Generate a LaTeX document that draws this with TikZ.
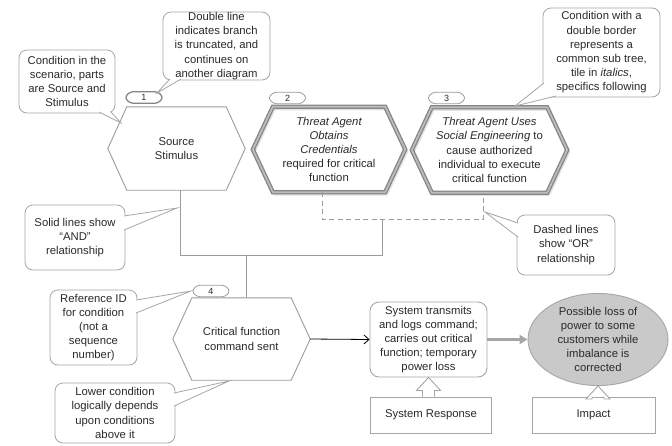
\documentclass[tikz,border=0pt]{standalone}
\usepackage{fontspec}
\setmainfont{Liberation Sans}
\usetikzlibrary{calc,arrows.meta,shapes.geometric}

\definecolor{ink}{HTML}{2A2A2A}
\definecolor{edge}{HTML}{A6A6A6}
\definecolor{hexedge}{HTML}{9C9C9C}
\definecolor{dbl}{HTML}{858585}
\definecolor{dblcore}{HTML}{BDBDBD}
\definecolor{impactfill}{HTML}{C9C9C9}

% hexagon outline around a rectangular node: #2 node name, #3 indent of the points
\newcommand\hexoutline[3][]{%
  \draw[#1] ([xshift=#3]#2.north west) -- ([xshift=-#3]#2.north east) -- (#2.east)
    -- ([xshift=-#3]#2.south east) -- ([xshift=#3]#2.south west) -- (#2.west) -- cycle;}
% soft shadow of a hexagon, offset down and right
\newcommand\hexshade[2]{%
  \draw[gray!22, line width=3pt, line join=round]
    ([xshift=#2+1.5pt,yshift=-2pt]#1.north west) -- ([xshift=-#2+1.5pt,yshift=-2pt]#1.north east)
    -- ([xshift=1.5pt,yshift=-2pt]#1.east) -- ([xshift=-#2+1.5pt,yshift=-2pt]#1.south east)
    -- ([xshift=#2+1.5pt,yshift=-2pt]#1.south west) -- ([xshift=1.5pt,yshift=-2pt]#1.west) -- cycle;}
% speech-bubble pointer: #1 and #2 base points (just inside the box), #3 tip
\newcommand\pointer[3]{%
  \fill[white] #1 -- #3 -- #2 -- cycle;
  \draw[calloutline] #1 -- #3 -- #2;}
% outlined upward block arrow from the top of #1 to the bottom of #2
\newcommand\blockup[2]{%
  \draw[blockline] ($(#2.south |- #1.north)+(-6,0)$) -- ($(#2.south)+(-6,13)$)
    -- ($(#2.south)+(-12,13)$) -- (#2.south) -- ($(#2.south)+(12,13)$)
    -- ($(#2.south)+(6,13)$) -- ($(#2.south |- #1.north)+(6,0)$);}

\begin{document}
\begin{tikzpicture}[x=1pt,y=-1pt,
  font=\fontsize{11.3}{14.2}\selectfont, text=ink,
  hexnode/.style={inner sep=0pt, align=center},
  plainhex/.style={draw=hexedge, line width=0.9pt, line join=miter},
  dblhex/.style={draw=dbl, line width=1.3pt, double=dblcore, double distance=1.7pt, line join=miter},
  tagnode/.style={inner sep=0pt, minimum width=38pt, minimum height=11pt, font=\fontsize{9}{10}\selectfont},
  tagline/.style={draw=hexedge, line width=0.8pt, rounded corners=3pt, fill=white},
  callout/.style={draw=edge, line width=0.8pt, fill=white, rounded corners=8pt, inner sep=0pt, align=center},
  calloutline/.style={draw=edge, line width=0.8pt, line join=miter},
  andline/.style={draw=hexedge, line width=0.9pt},
  orline/.style={draw=hexedge, line width=0.9pt, dash pattern=on 5pt off 3.5pt},
  plainbox/.style={draw=edge, line width=0.9pt, fill=white, inner sep=0pt, align=center},
  blockline/.style={draw=edge, line width=0.9pt, fill=white, line join=miter}]

\useasboundingbox[fill=white] (0,0) rectangle (672,445);

% ---- conditions ----
\node[hexnode, minimum width=137pt, minimum height=83pt] (h1) at (176.5,148.5) {Source\\Stimulus};
\node[hexnode, minimum width=152pt, minimum height=85pt] (h2) at (329,149.5)
  {\itshape Threat Agent\\\itshape Obtains\\\itshape Credentials\\required for critical\\function};
\node[hexnode, minimum width=155pt, minimum height=85pt] (h3) at (489.5,150)
  {\itshape Threat Agent Uses\\\itshape Social Engineering\upshape\ to\\cause authorized\\individual to execute\\critical function};
\node[hexnode, minimum width=137pt, minimum height=82pt] (h4) at (241.5,339) {Critical function\\command sent};

\hexoutline[plainhex]{h1}{19pt}
\hexshade{h2}{20pt}
\hexshade{h3}{20pt}
\hexoutline[dblhex]{h2}{20pt}
\hexoutline[dblhex]{h3}{20pt}
\hexoutline[plainhex]{h4}{19pt}

% ---- reference tags ----
\node[tagnode] (t1) at (144,97.5) {};
\node[tagnode] (t2) at (287.5,98) {};
\node[tagnode] (t3) at (446.5,98) {};
\node[tagnode] (t4) at (211,291) {};
\hexoutline[tagline, draw=dbl, line width=1.3pt]{t1}{5pt}
\hexoutline[tagline]{t2}{5pt}
\hexoutline[tagline]{t3}{5pt}
\hexoutline[tagline]{t4}{5pt}
\node[tagnode] at (t1) {1};
\node[tagnode] at (t2) {2};
\node[tagnode] at (t3) {3};
\node[tagnode] at (t4) {4};

% ---- AND / OR connectors ----
\coordinate (andL) at (180,255);
\coordinate (andR) at (382,255);
\coordinate (andM) at (246,255);
\coordinate (orL)  at (322,219);
\coordinate (orR)  at (483,219);
\coordinate (orM)  at (382,219);
\draw[andline] (h1.south -| andL) -- (andL) -- (andR) -- (orM);
\draw[andline] (andM) -- (h4.north -| andM);
\draw[orline] (h2.south -| orL) -- (orL) -- (orR) -- (h3.south -| orR);

% ---- response and impact ----
\node[plainbox, rounded corners=9pt, minimum width=117pt, minimum height=75pt] (resp) at (428.5,339.5)
  {System transmits\\and logs command;\\carries out critical\\function; temporary\\power loss};
\node[ellipse, draw=edge, line width=0.9pt, fill=impactfill, inner sep=0pt,
  minimum width=140pt, minimum height=76pt, align=center] (imp) at (598,339.5)
  {Possible loss of\\power to some\\customers while\\imbalance is\\corrected};
\node[plainbox, minimum width=121pt, minimum height=36pt] (resplbl) at (431,415) {System Response};
\node[plainbox, minimum width=123pt, minimum height=36pt] (implbl) at (593.5,415) {Impact};

\draw[black, line width=0.8pt, -{Straight Barb[length=5pt,width=9pt]}] (h4.east) -- (resp.west);
\draw[gray!70, line width=3pt, -{Triangle[length=8pt,width=9pt]}] (resp.east) -- (imp.west);
\blockup{resplbl}{resp}
\blockup{implbl}{imp}

% ---- explanatory callouts ----
\node[callout, minimum width=96pt, minimum height=63pt] (c1) at (67,81.5)
  {Condition in the\\scenario, parts\\are Source and\\Stimulus};
\pointer{(99,112)}{(111,112)}{(121,123)}

\node[callout, minimum width=107pt, minimum height=68pt] (c2) at (216.5,46)
  {Double line\\indicates branch\\is truncated, and\\continues on\\another diagram};
\pointer{(170,79)}{(181,79)}{(157,93)}

\node[callout, minimum width=117pt, minimum height=89pt] (c3) at (601.5,52.5)
  {Condition with a\\double border\\represents a\\common sub tree,\\tile in \textit{italics},\\specifics following};
\pointer{(544,83)}{(556,96)}{(515,106)}

\node[callout, minimum width=100pt, minimum height=65pt] (c4) at (75,237.5)
  {Solid lines show\\“AND”\\relationship};
\pointer{(124,216)}{(124,230)}{(177,208)}

\node[callout, minimum width=87pt, minimum height=75pt] (c5) at (93.5,327.5)
  {Reference ID\\for condition\\(not a\\sequence\\number)};
\pointer{(136,300)}{(136,313)}{(191,291)}

\node[callout, minimum width=120pt, minimum height=60pt] (c6) at (115,413)
  {Lower condition\\logically depends\\upon conditions\\above it};
\pointer{(174,393)}{(174,406)}{(229,381)}

\node[callout, minimum width=98pt, minimum height=60pt] (c7) at (566,245)
  {Dashed lines\\show “OR”\\relationship};
\pointer{(518,223)}{(518,237)}{(485,212)}

\end{tikzpicture}
\end{document}
